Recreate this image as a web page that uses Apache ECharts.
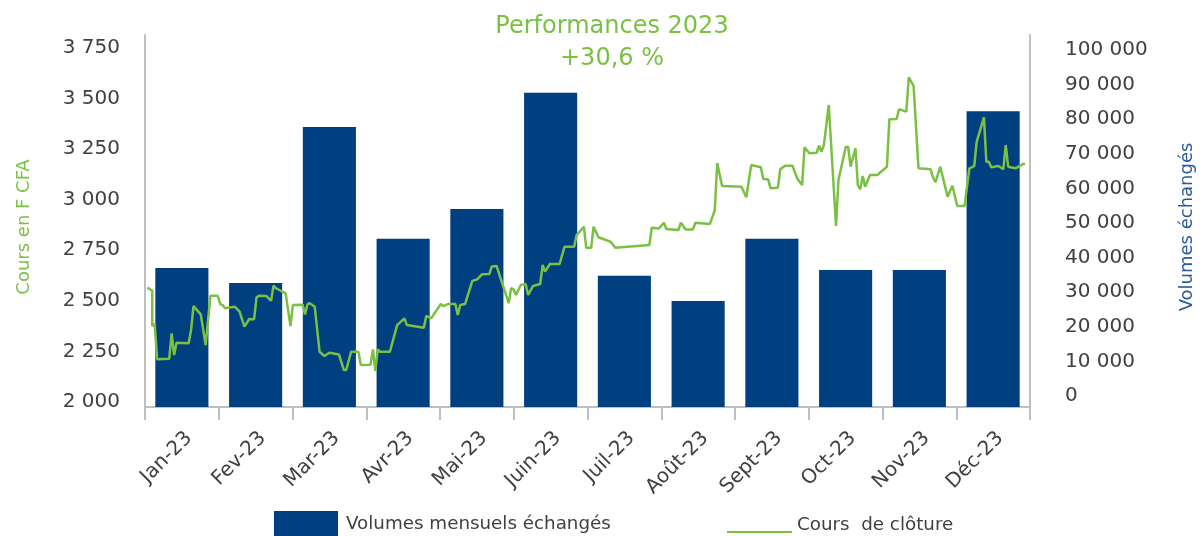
<!DOCTYPE html>
<html>
<head>
<meta charset="utf-8">
<script src="https://cdn.jsdelivr.net/npm/echarts@6/dist/echarts.min.js"></script>
<style>
html,body{margin:0;padding:0;background:#fff;}
#chart{width:1202px;height:536px;}
</style>
</head>
<body>
<div id="chart"></div>
<script>
const months = ['Jan-23','Fev-23','Mar-23','Avr-23','Mai-23','Juin-23','Juil-23','Août-23','Sept-23','Oct-23','Nov-23','Déc-23'];
const monthlyVolumes = [40200,35800,80900,48600,57200,90800,37900,30600,48600,39600,39600,85500];
const closeDays = [1,3,3,4,5,10,11,12,13,18,19,20,23,25,27,30,31,32,33,37,39,41,43,45,46,47,50,52,53,54,58,60,61,65,66,67,68,70,72,74,76,80,82,83,85,88,89,93,94,95,96,97,101,104,107,108,115,116,118,122,123,125,128,129,130,132,135,137,139,142,143,145,146,150,151,152,153,155,157,158,160,163,164,165,167,171,173,177,178,181,182,184,185,187,192,194,208,209,212,214,215,220,221,223,226,227,233,235,236,238,246,248,250,254,255,257,258,261,262,264,267,269,271,272,274,277,278,279,280,282,285,286,289,290,291,293,294,295,296,297,299,302,306,307,310,311,314,315,317,319,324,325,326,328,331,333,335,338,340,342,343,346,347,348,349,352,354,355,356,359,362,363];
const closePrices = [2590,2575,2400,2410,2236,2239,2364,2257,2318,2315,2381,2499,2458,2306,2550,2550,2509,2504,2488,2496,2471,2397,2435,2434,2542,2550,2549,2525,2600,2587,2562,2400,2504,2506,2458,2508,2513,2496,2273,2252,2268,2260,2183,2183,2273,2273,2208,2209,2285,2179,2285,2273,2273,2405,2438,2405,2392,2450,2438,2509,2499,2509,2509,2455,2504,2509,2623,2631,2656,2657,2694,2697,2661,2513,2587,2582,2554,2603,2608,2554,2598,2608,2702,2669,2707,2707,2792,2792,2850,2891,2787,2787,2891,2839,2817,2787,2801,2886,2883,2911,2880,2875,2911,2878,2878,2911,2905,2974,3206,3092,3089,3037,3196,3185,3127,3126,3081,3084,3175,3193,3193,3130,3097,3284,3254,3257,3292,3262,3295,3493,2895,3122,3284,3287,3188,3279,3097,3076,3142,3089,3147,3147,3188,3422,3424,3472,3460,3630,3587,3180,3175,3135,3111,3188,3040,3094,2994,2994,3180,3191,3311,3432,3213,3213,3185,3191,3175,3295,3188,3180,3201,3201];
const titleText = 'Performances 2023';
const perfText = '+30,6 %';
const barName = 'Volumes mensuels échangés';
const lineName = 'Cours  de clôture';
const leftAxisName = 'Cours en F CFA';
const rightAxisName = 'Volumes échangés';

const FONT = 'DejaVu Sans';
const GREEN = '#7ac143';
const BLUE = '#003f80';
const AXIS = '#bfbfbf';
const TXT = '#404040';

function fmt(interval){
  return function(v){
    if (Math.abs(v % interval) > 1e-6) return '';
    return String(v).replace(/\B(?=(\d{3})+(?!\d))/g, ' ');
  };
}

const chart = echarts.init(document.getElementById('chart'), null, {renderer:'canvas'});
chart.setOption({
  animation:false,
  backgroundColor:'#fff',
  title:{
    text: titleText + '\n' + perfText,
    left: 607, top: 6, textAlign:'center',
    textStyle:{color:GREEN, fontFamily:FONT, fontSize:24, fontWeight:'normal', lineHeight:32}
  },
  legend:[
    {data:[barName], left:274, top:511, padding:0, itemWidth:64, itemHeight:27, icon:'rect',
     textStyle:{fontFamily:FONT, fontSize:18.3, color:TXT, padding:[0,0,0,3]}},
    {data:[lineName], left:727, top:516, padding:0, itemWidth:65, itemHeight:16,
     icon:'path://M0,0 L0.01,0 M0,20 L100,20 L100,23 L0,23 Z', symbolKeepAspect:false,
     textStyle:{fontFamily:FONT, fontSize:18.3, color:TXT}}
  ],
  grid:{left:145, right:172, top:35, bottom:129, containLabel:false},
  xAxis:[
    {type:'category', data:months, gridIndex:0,
     axisLine:{lineStyle:{color:AXIS, width:2}},
     axisTick:{show:true, length:13, lineStyle:{color:AXIS, width:2}},
     axisLabel:{rotate:45, fontFamily:FONT, fontSize:20, color:TXT, margin:21, interval:0,
                verticalAlign:'top', lineHeight:20},
     splitLine:{show:false}},
    {type:'value', min:0, max:365, show:false, gridIndex:0}
  ],
  yAxis:[
    {type:'value', position:'left', min:2000, max:3839, interval:250,
     axisLine:{show:true, lineStyle:{color:AXIS, width:2}},
     axisTick:{show:false}, splitLine:{show:false},
     axisLabel:{formatter:fmt(250), fontFamily:FONT, fontSize:20, color:TXT, margin:25,
                verticalAlign:'bottom', lineHeight:10}},
    {type:'value', position:'right', min:0, max:107500, interval:10000,
     axisLine:{show:true, lineStyle:{color:AXIS, width:2}},
     axisTick:{show:false}, splitLine:{show:false},
     axisLabel:{formatter:fmt(10000), fontFamily:FONT, fontSize:20, color:TXT, margin:35,
                verticalAlign:'bottom', lineHeight:22}}
  ],
  graphic:[
    {type:'text', x:24, y:227, rotation:Math.PI/2,
     style:{text:leftAxisName, fill:GREEN, font:'18px "DejaVu Sans"', textAlign:'center', textVerticalAlign:'middle'}},
    {type:'text', x:1187, y:227, rotation:Math.PI/2,
     style:{text:rightAxisName, fill:'#2a5a9a', font:'18px "DejaVu Sans"', textAlign:'center', textVerticalAlign:'middle'}}
  ],
  series:[
    {type:'bar', name:barName, xAxisIndex:0, yAxisIndex:1, data:monthlyVolumes,
     barCategoryGap:'28%', itemStyle:{color:BLUE}, z:2},
    {type:'line', name:lineName, xAxisIndex:1, yAxisIndex:0,
     data: closeDays.map((d,i)=>[d, closePrices[i]]),
     symbol:'none', showSymbol:false, smooth:false,
     lineStyle:{color:GREEN, width:2.5}, itemStyle:{color:GREEN}, z:3}
  ]
});
</script>
</body>
</html>
